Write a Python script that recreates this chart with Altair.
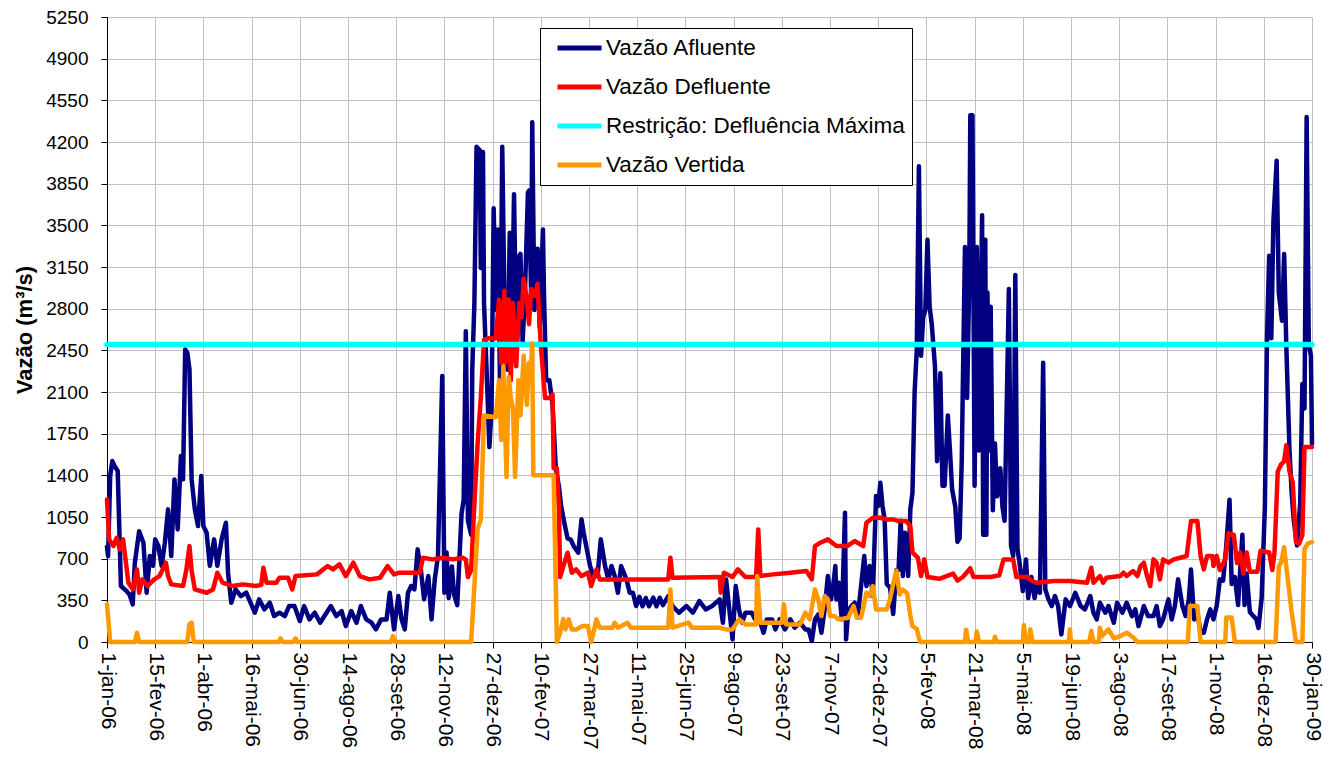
import altair as alt
import pandas as pd

# ---------------- data (day offset from 1-jan-2006, flow in m3/s) ----------------
afl_dias = [0, 1, 3, 5, 7, 10, 13, 18, 21, 24, 26, 30, 34, 37, 40, 43, 45, 48, 51, 54, 57, 60, 63, 66, 69, 71, 73, 75, 77, 79,
            82, 85, 88, 90, 93, 96, 100, 103, 107, 111, 113, 116, 120, 125, 130, 134, 138, 142, 147, 152, 156, 161, 166, 170, 175,
            180, 184, 189, 194, 199, 203, 209, 214, 219, 223, 228, 233, 237, 242, 247, 251, 256, 261, 264, 268, 272, 275, 278, 281,
            284, 287, 290, 293, 296, 300, 303, 306, 309, 313, 315, 317, 319, 322, 324, 327, 331, 333, 335, 337, 340, 341, 343, 345,
            348, 349, 351, 352, 355, 357, 359, 361, 363, 365, 367, 369, 371, 374, 376, 378, 380, 382, 384, 386, 388, 390, 393, 394,
            396, 397, 399, 402, 404, 407, 408, 410, 413, 416, 419, 422, 424, 427, 430, 433, 436, 440, 443, 445, 448, 451, 454, 458,
            461, 465, 468, 471, 474, 477, 480, 485, 488, 491, 494, 497, 500, 503, 506, 510, 513, 516, 519, 524, 528, 534, 541, 547,
            553, 559, 565, 572, 575, 578, 581, 584, 587, 590, 593, 596, 599, 602, 605, 608, 613, 616, 621, 624, 628, 633, 638, 642,
            647, 652, 655, 658, 661, 664, 667, 670, 673, 676, 678, 680, 681, 683, 686, 689, 690, 692, 695, 698, 701, 704, 707, 709,
            712, 715, 718, 720, 722, 724, 726, 728, 731, 734, 737, 739, 741, 743, 745, 748, 750, 752, 754, 756, 758, 760, 762, 764,
            766, 768, 770, 773, 775, 778, 780, 782, 785, 787, 789, 792, 794, 796, 798, 799, 801, 803, 805, 806, 808, 810, 812, 814,
            817, 818, 820, 821, 822, 824, 825, 827, 829, 831, 834, 836, 838, 842, 844, 846, 848, 850, 852, 855, 858, 860, 863, 866,
            868, 871, 874, 876, 879, 882, 885, 888, 891, 895, 899, 904, 909, 913, 918, 921, 924, 927, 932, 935, 940, 943, 948, 952,
            957, 960, 963, 968, 972, 977, 980, 983, 986, 991, 994, 997, 1000, 1004, 1007, 1010, 1012, 1015, 1018, 1021, 1024, 1027,
            1030, 1033, 1036, 1039, 1042, 1045, 1048, 1050, 1053, 1056, 1060, 1062, 1064, 1067, 1070, 1073, 1075, 1078, 1081, 1083,
            1085, 1087, 1089, 1092, 1094, 1097, 1099, 1101, 1104, 1106, 1108, 1111, 1114, 1116, 1118, 1120, 1122, 1124, 1125]
afl_vazao = [800, 720, 1400, 1520, 1480, 1436, 470, 430, 400, 316, 666, 930, 834, 414, 722, 640, 862, 806, 640, 834, 1114, 722,
             1366, 946, 1562, 1366, 2458, 2430, 2290, 1366, 1114, 974, 1394, 974, 918, 640, 862, 640, 862, 1002, 582, 330, 442, 386,
             414, 330, 246, 358, 274, 330, 218, 246, 218, 302, 302, 176, 302, 190, 246, 162, 218, 302, 218, 260, 134, 260, 162, 302,
             190, 162, 106, 190, 190, 414, 106, 386, 190, 106, 414, 470, 442, 778, 610, 358, 554, 190, 526, 722, 2234, 414, 752, 369,
             634, 398, 310, 1077, 1195, 2611, 1018, 900, 2286, 2847, 4160, 4130, 3142, 4115, 2847, 2139, 1637, 1962, 3643, 2788, 3466,
             2109, 4160, 2906, 2286, 3437, 2611, 3761, 2611, 3230, 3260, 2522, 2876, 3776, 3791, 2906, 4366, 2788, 3304, 2640, 3466,
             2906, 2198, 2198, 1991, 1460, 1300, 1140, 1000, 870, 860, 800, 750, 1030, 918, 778, 638, 554, 554, 862, 638, 526, 638,
             554, 414, 638, 526, 414, 414, 302, 380, 300, 370, 300, 372, 300, 372, 310, 386, 302, 246, 302, 246, 344, 274, 302, 358,
             162, 526, 274, 22, 470, 274, 162, 246, 246, 246, 190, 218, 78, 190, 190, 106, 190, 106, 190, 120, 162, 106, 106, 8, 190,
             232, 78, 274, 554, 358, 470, 638, 358, 498, 190, 1086, 22, 260, 302, 330, 218, 470, 722, 470, 638, 386, 1226, 1142, 1338,
             1142, 1030, 487, 457, 236, 605, 605, 1018, 554, 918, 554, 1114, 1254, 2100, 2450, 3997, 2404, 2729, 2788, 3378, 2817,
             2670, 2316, 1519, 2257, 1313, 1313, 1903, 1608, 1283, 1136, 841, 870, 1519, 2139, 3319, 2050, 3024, 4425, 4425, 1313,
             3319, 1608, 3584, 900, 3378, 900, 2935, 1608, 2817, 1106, 1667, 1224, 1460, 1136, 1018, 2965, 811, 723, 3083, 782, 664,
             428, 693, 369, 546, 369, 470, 414, 2346, 442, 358, 302, 386, 302, 64, 358, 302, 414, 302, 274, 386, 246, 190, 330, 246,
             302, 162, 330, 246, 330, 218, 274, 134, 302, 218, 218, 302, 134, 190, 358, 190, 302, 526, 302, 218, 358, 610, 190, 246,
             78, 78, 190, 274, 190, 302, 526, 516, 811, 1195, 487, 546, 310, 900, 310, 575, 251, 221, 192, 118, 369, 1136, 2552,
             3245, 2552, 3540, 4042, 2935, 2699, 3260, 2493, 1608, 1254, 1018, 811, 1165, 2168, 1962, 4410, 2493, 2404, 1667]

def_dias = [0, 2, 6, 9, 12, 15, 20, 24, 28, 30, 33, 38, 44, 49, 55, 57, 60, 71, 74, 77, 79, 82, 93, 99, 103, 108, 117, 127, 139,
            144, 146, 149, 158, 161, 169, 173, 176, 196, 206, 211, 217, 223, 230, 236, 245, 255, 262, 268, 273, 292, 295, 304, 314,
            323, 332, 335, 337, 340, 343, 346, 349, 352, 357, 363, 366, 368, 371, 372, 375, 377, 379, 382, 385, 387, 389, 392, 394,
            396, 399, 402, 405, 409, 413, 416, 417, 420, 422, 423, 427, 430, 434, 438, 443, 449, 452, 457, 460, 524, 526, 528, 572,
            573, 576, 584, 589, 596, 606, 608, 610, 622, 638, 653, 658, 661, 666, 673, 681, 691, 698, 706, 709, 715, 722, 728, 734,
            739, 746, 750, 752, 757, 760, 763, 766, 777, 790, 794, 799, 806, 809, 825, 833, 837, 846, 849, 859, 863, 868, 884, 899,
            915, 919, 921, 927, 930, 933, 946, 949, 952, 958, 962, 965, 968, 971, 974, 977, 980, 983, 986, 991, 996, 1002, 1008,
            1012, 1018, 1021, 1024, 1027, 1032, 1033, 1036, 1039, 1044, 1047, 1052, 1055, 1058, 1061, 1064, 1067, 1074, 1077, 1085,
            1088, 1090, 1093, 1096, 1099, 1101, 1104, 1107, 1110, 1113, 1116, 1118, 1125]
def_vazao = [1198, 862, 806, 876, 778, 862, 498, 442, 610, 414, 526, 470, 526, 554, 666, 554, 484, 470, 600, 806, 600, 442, 414,
             442, 582, 498, 470, 484, 470, 480, 624, 498, 498, 540, 540, 442, 554, 568, 638, 610, 652, 554, 666, 554, 526, 540, 638,
             568, 582, 582, 708, 694, 708, 694, 708, 694, 546, 605, 1165, 1667, 2050, 2537, 2552, 2552, 2876, 2345, 2950, 2345, 2876,
             2198, 2847, 2316, 2847, 2729, 3053, 2876, 2670, 2965, 2906, 3009, 2493, 2050, 2050, 2080, 1460, 1460, 1106, 546, 664,
             750, 582, 610, 554, 582, 470, 610, 526, 526, 708, 540, 546, 414, 582, 546, 610, 546, 546, 946, 554, 568, 582, 596, 526,
             806, 834, 862, 806, 806, 848, 806, 1002, 1044, 1044, 1030, 1030, 1016, 1016, 974, 752, 708, 554, 694, 546, 531, 575,
             516, 546, 620, 546, 546, 560, 693, 693, 546, 546, 516, 498, 512, 512, 498, 624, 498, 554, 498, 540, 554, 582, 554, 596,
             554, 638, 666, 554, 470, 694, 666, 526, 694, 666, 694, 708, 722, 1016, 1016, 722, 610, 722, 722, 638, 723, 605, 693,
             914, 900, 664, 752, 575, 752, 590, 590, 767, 752, 605, 752, 1431, 1490, 1519, 1652, 1431, 1342, 841, 826, 900, 1637,
             1637]

res_dias = [0, 1125]
res_vazao = [2500, 2500]

ver_dias = [0, 3, 26, 28, 30, 75, 77, 79, 81, 160, 162, 164, 174, 176, 178, 265, 267, 269, 340, 346, 349, 352, 363, 366, 368, 370,
            373, 375, 377, 379, 381, 384, 386, 389, 392, 394, 396, 397, 398, 417, 420, 423, 426, 428, 431, 434, 438, 444, 449, 452,
            457, 460, 472, 474, 477, 486, 489, 524, 526, 528, 543, 546, 572, 578, 584, 590, 596, 606, 607, 610, 630, 632, 634, 647,
            652, 656, 661, 664, 667, 670, 673, 675, 679, 683, 692, 697, 700, 704, 709, 712, 715, 718, 728, 731, 734, 737, 740, 743,
            747, 750, 752, 756, 759, 801, 802, 804, 811, 812, 814, 828, 829, 831, 855, 856, 858, 861, 862, 864, 898, 899, 900, 917,
            919, 921, 926, 927, 929, 935, 940, 946, 952, 958, 962, 1009, 1011, 1018, 1021, 1044, 1045, 1050, 1053, 1091, 1094,
            1096, 1099, 1101, 1106, 1110, 1116, 1118, 1121, 1125]
ver_vazao = [316, 0, 0, 78, 0, 0, 150, 162, 0, 0, 30, 0, 0, 30, 0, 0, 50, 0, 0, 946, 1030, 1903, 1888, 2198, 1696, 2316, 1387,
             2227, 2050, 1962, 1387, 2198, 1903, 2404, 1991, 2345, 2316, 2507, 1401, 1401, 0, 78, 192, 106, 190, 106, 106, 134,
             134, 0, 190, 120, 120, 162, 120, 162, 120, 120, 442, 120, 162, 120, 120, 106, 106, 190, 148, 148, 554, 162, 162, 316,
             148, 148, 246, 190, 442, 358, 218, 386, 358, 218, 218, 190, 204, 302, 204, 204, 414, 386, 470, 274, 274, 358, 487, 600,
             400, 440, 410, 221, 133, 110, 0, 0, 103, 0, 0, 88, 0, 0, 44, 0, 0, 140, 0, 0, 106, 0, 0, 106, 0, 0, 92, 0, 0, 120, 50,
             106, 30, 50, 78, 40, 0, 0, 302, 302, 0, 0, 206, 206, 0, 0, 634, 664, 796, 634, 251, 0, 0, 782, 826, 840]

series = ["Vazão Afluente", "Vazão Defluente", "Restrição: Defluência Máxima", "Vazão Vertida"]
cores = ["#000080", "#FF0000", "#00FFFF", "#FF9900"]

tick_dias = list(range(0, 1126, 45))
tick_rotulos = ["1-jan-06", "15-fev-06", "1-abr-06", "16-mai-06", "30-jun-06", "14-ago-06", "28-set-06", "12-nov-06",
                "27-dez-06", "10-fev-07", "27-mar-07", "11-mai-07", "25-jun-07", "9-ago-07", "23-set-07", "7-nov-07",
                "22-dez-07", "5-fev-08", "21-mar-08", "5-mai-08", "19-jun-08", "3-ago-08", "17-set-08", "1-nov-08",
                "16-dez-08", "30-jan-09"]
y_ticks = list(range(0, 5251, 350))

FONT = "Liberation Sans"
label_expr = "[" + ",".join("'" + s + "'" for s in tick_rotulos) + "][round(datum.value / 45)]"

x_enc = alt.X("dia:Q",
              scale=alt.Scale(domain=[0, 1125], nice=False, zero=False),
              axis=alt.Axis(values=tick_dias, labelExpr=label_expr, labelAngle=90, title=None,
                            labelFont=FONT, labelFontSize=21, labelColor="black", tickSize=6,
                            labelPadding=4, grid=True, gridColor="#C0C0C0", domainColor="black",
                            tickColor="black", labelOverlap=False, labelFlush=False))
y_enc = alt.Y("vazao:Q",
              scale=alt.Scale(domain=[0, 5250], nice=False),
              axis=alt.Axis(values=y_ticks, format="d", title="Vazão (m³/s)", titleFont=FONT, titleFontSize=22,
                            titleFontWeight="bold", titleColor="black", titlePadding=9,
                            labelFont=FONT, labelFontSize=19, labelColor="black", labelPadding=13,
                            tickSize=6, grid=True, gridColor="#C0C0C0", domainColor="black",
                            tickColor="black"))
color_enc = alt.Color("serie:N",
                      scale=alt.Scale(domain=series, range=cores),
                      legend=alt.Legend(title=None, orient="none", legendX=433, legendY=11,
                                        direction="vertical", fillColor="white", strokeColor="black",
                                        padding=7, labelFont=FONT, labelFontSize=22.5, labelColor="black",
                                        symbolType="stroke", symbolStrokeWidth=5, symbolSize=1936,
                                        symbolOffset=8, clipHeight=26, rowPadding=13,
                                        labelOffset=2, labelLimit=450))


def camada(dias, vals, nome, largura):
    df = pd.DataFrame({"dia": dias, "vazao": vals, "serie": nome})
    return alt.Chart(df).mark_line(strokeWidth=largura, strokeJoin="round", strokeCap="round").encode(
        x=x_enc, y=y_enc, color=color_enc)


chart = alt.layer(
    camada(afl_dias, afl_vazao, series[0], 4.5),
    camada(def_dias, def_vazao, series[1], 4.5),
    camada(res_dias, res_vazao, series[2], 5.5),
    camada(ver_dias, ver_vazao, series[3], 4.5),
).properties(
    width=1205, height=625,
    padding={"left": 99, "top": 9, "right": 13, "bottom": 125},
    autosize=alt.AutoSizeParams(type="none"),
    background="white",
).configure_view(strokeWidth=0)

chart.save("out.html", embed_options={"renderer": "svg", "actions": False})
